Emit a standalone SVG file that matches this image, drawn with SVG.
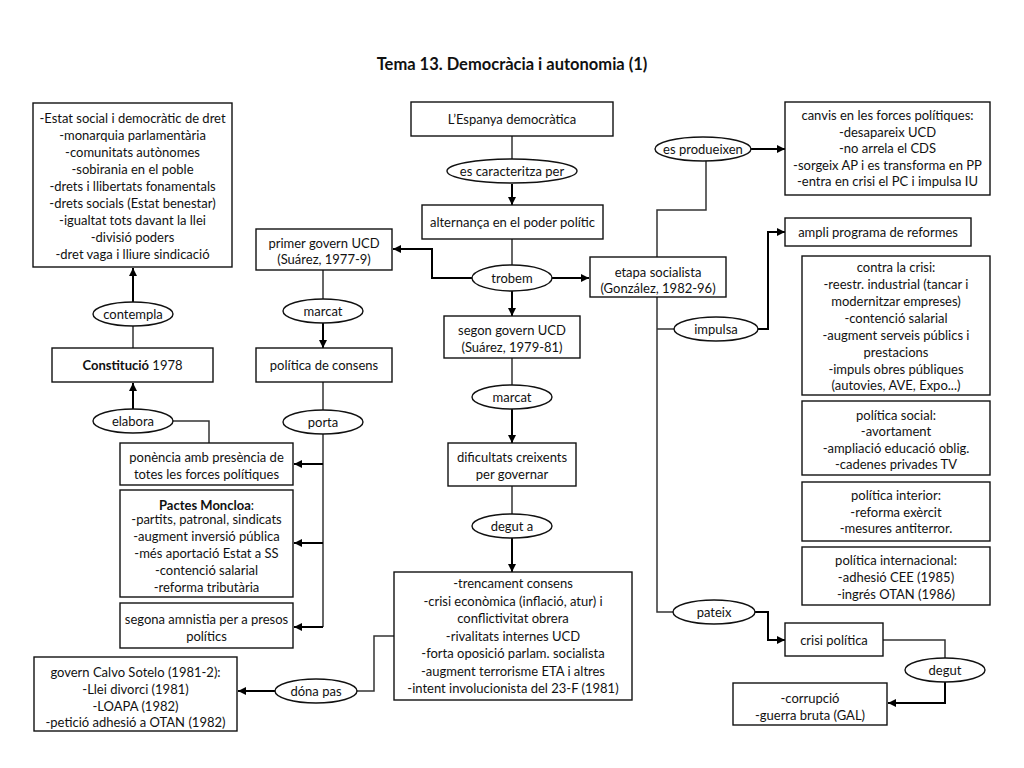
<svg xmlns="http://www.w3.org/2000/svg" width="1024" height="768" viewBox="0 0 1024 768">
<style>
text{font-family:Lato,"Liberation Sans",sans-serif;font-size:13px;fill:#111;text-anchor:middle}
.title{font-size:16.5px;font-weight:bold}
.b{font-weight:bold}
.box{fill:#fff;stroke:#111;stroke-width:1.4}
.ell{fill:#fff;stroke:#111;stroke-width:1.4}
.ln{fill:none;stroke:#333;stroke-width:1.5}
.ar{fill:none;stroke:#000;stroke-width:2;marker-end:url(#ah)}
</style>
<defs>
<marker id="ah" viewBox="0 0 10 10" refX="10" refY="5" markerWidth="9" markerHeight="8" markerUnits="userSpaceOnUse" orient="auto">
<path d="M0,0 L10,5 L0,10 z" fill="#000"/>
</marker>
</defs>
<rect width="1024" height="768" fill="#fff"/>
<text class="title" x="512" y="70">Tema 13. Democràcia i autonomia (1)</text>

<g id="connectors">
<path class="ar" d="M133,302 L133,268"/>
<path class="ln" d="M133,326 L133,348"/>
<path class="ar" d="M133,409 L133,383"/>
<path class="ln" d="M173,421 L209,421 L209,443"/>
<path class="ln" d="M323,270 L323,299"/>
<path class="ar" d="M323,323 L323,348"/>
<path class="ln" d="M323,382 L323,410"/>
<path class="ln" d="M323,434 L323,627"/>
<path class="ar" d="M323,464 L294,464"/>
<path class="ar" d="M323,543 L294,543"/>
<path class="ar" d="M323,627 L294,627"/>
<path class="ln" d="M512,136 L512,159"/>
<path class="ar" d="M512,184 L512,205"/>
<path class="ln" d="M512,239 L512,265"/>
<path class="ar" d="M472,278 L432,278 L432,249 L393,249"/>
<path class="ar" d="M552,278 L589,278"/>
<path class="ar" d="M512,291 L512,316"/>
<path class="ln" d="M512,358 L512,385"/>
<path class="ar" d="M512,409 L512,443"/>
<path class="ln" d="M512,486 L512,514"/>
<path class="ar" d="M512,538 L512,572"/>
<path class="ln" d="M394,636 L374,636 L374,691 L357,691"/>
<path class="ar" d="M275,691 L238,691"/>
<path class="ln" d="M657,257 L657,210 L706,210 L706,161"/>
<path class="ar" d="M750,149 L785,149"/>
<path class="ln" d="M657,297 L657,612 L673,612"/>
<path class="ln" d="M657,329 L674,329"/>
<path class="ar" d="M758,329 L768,329 L768,232 L785,232"/>
<path class="ar" d="M755,612 L768,612 L768,640 L785,640"/>
<path class="ln" d="M883,640 L945,640 L945,658"/>
<path class="ar" d="M945,682 L945,703 L888,703"/>
</g>

<g id="n-const-content">
<rect class="box" x="33" y="103" width="199" height="164"/>
<text x="132.5" y="123">-Estat social i democràtic de dret</text>
<text x="132.5" y="140">-monarquia parlamentària</text>
<text x="132.5" y="157">-comunitats autònomes</text>
<text x="132.5" y="174">-sobirania en el poble</text>
<text x="132.5" y="191">-drets i llibertats fonamentals</text>
<text x="132.5" y="208">-drets socials (Estat benestar)</text>
<text x="132.5" y="225">-igualtat tots davant la llei</text>
<text x="132.5" y="242">-divisió poders</text>
<text x="132.5" y="259">-dret vaga i lliure sindicació</text>
</g>
<g id="n-contempla"><ellipse class="ell" cx="133" cy="314" rx="40" ry="12"/><text x="133" y="318.5">contempla</text></g>
<g id="n-constitucio"><rect class="box" x="52" y="348" width="161" height="34"/><text x="132.5" y="369.5"><tspan class="b">Constitució</tspan> 1978</text></g>
<g id="n-elabora"><ellipse class="ell" cx="133" cy="421" rx="40" ry="12"/><text x="133" y="425.5">elabora</text></g>
<g id="n-ponencia"><rect class="box" x="120" y="443" width="173" height="42"/><text x="206.5" y="462">ponència amb presència de</text><text x="206.5" y="479">totes les forces polítiques</text></g>
<g id="n-pactes"><rect class="box" x="120" y="490" width="173" height="107"/>
<text x="206.5" y="510"><tspan class="b">Pactes Moncloa</tspan>:</text>
<text x="206.5" y="524">-partits, patronal, sindicats</text>
<text x="206.5" y="541">-augment inversió pública</text>
<text x="206.5" y="558">-més aportació Estat a SS</text>
<text x="206.5" y="575">-contenció salarial</text>
<text x="206.5" y="592">-reforma tributària</text>
</g>
<g id="n-amnistia"><rect class="box" x="120" y="603" width="173" height="45"/><text x="206.5" y="624">segona amnistia per a presos</text><text x="206.5" y="641">polítics</text></g>
<g id="n-primer"><rect class="box" x="256" y="229" width="136" height="41"/><text x="324" y="247.5">primer govern UCD</text><text x="324" y="264">(Suárez, 1977-9)</text></g>
<g id="n-marcat1"><ellipse class="ell" cx="323" cy="311" rx="40" ry="12"/><text x="323" y="315.5">marcat</text></g>
<g id="n-consens"><rect class="box" x="256" y="348" width="136" height="34"/><text x="324" y="369.5">política de consens</text></g>
<g id="n-porta"><ellipse class="ell" cx="323" cy="422" rx="40" ry="12"/><text x="323" y="426.5">porta</text></g>
<g id="n-espanya"><rect class="box" x="411" y="102" width="202" height="34"/><text x="512" y="123.5">L’Espanya democràtica</text></g>
<g id="n-caract"><ellipse class="ell" cx="512" cy="171" rx="65" ry="12"/><text x="512" y="175.5">es caracteritza per</text></g>
<g id="n-alternanca"><rect class="box" x="422" y="205" width="181" height="34"/><text x="512.5" y="226.5">alternança en el poder polític</text></g>
<g id="n-trobem"><ellipse class="ell" cx="512" cy="278" rx="40" ry="13"/><text x="512" y="282.5">trobem</text></g>
<g id="n-segon"><rect class="box" x="444" y="316" width="136" height="42"/><text x="512" y="334.5">segon govern UCD</text><text x="512" y="351.5">(Suárez, 1979-81)</text></g>
<g id="n-marcat2"><ellipse class="ell" cx="512" cy="397" rx="40" ry="12"/><text x="512" y="401.5">marcat</text></g>
<g id="n-dificultats"><rect class="box" x="448" y="443" width="128" height="43"/><text x="512" y="461.5">dificultats creixents</text><text x="512" y="478.5">per governar</text></g>
<g id="n-deguta"><ellipse class="ell" cx="512" cy="526" rx="40" ry="12"/><text x="512" y="530.5">degut a</text></g>
<g id="n-trencament"><rect class="box" x="394" y="572" width="238" height="128"/>
<text x="513" y="588">-trencament consens</text>
<text x="513" y="605.5">-crisi econòmica (inflació, atur) i</text>
<text x="513" y="623">conflictivitat obrera</text>
<text x="513" y="640.5">-rivalitats internes UCD</text>
<text x="513" y="658">-forta oposició parlam. socialista</text>
<text x="513" y="675.5">-augment terrorisme ETA i altres</text>
<text x="513" y="693">-intent involucionista del 23-F (1981)</text>
</g>
<g id="n-donapas"><ellipse class="ell" cx="316" cy="691" rx="41" ry="12"/><text x="316" y="695.5">dóna pas</text></g>
<g id="n-calvo"><rect class="box" x="34" y="657" width="203" height="74"/>
<text x="135.5" y="676.5">govern Calvo Sotelo (1981-2):</text>
<text x="135.5" y="693.5">-Llei divorci (1981)</text>
<text x="135.5" y="710.5">-LOAPA (1982)</text>
<text x="135.5" y="727">-petició adhesió a OTAN (1982)</text>
</g>
<g id="n-etapa"><rect class="box" x="590" y="257" width="136" height="40"/><text x="658" y="276.5">etapa socialista</text><text x="658" y="292.5">(González, 1982-96)</text></g>
<g id="n-produeixen"><ellipse class="ell" cx="703" cy="149" rx="48" ry="12"/><text x="703" y="153.5">es produeixen</text></g>
<g id="n-canvis"><rect class="box" x="785" y="102" width="205" height="93"/>
<text x="887.5" y="120">canvis en les forces polítiques:</text>
<text x="887.5" y="136.5">-desapareix UCD</text>
<text x="887.5" y="153">-no arrela el CDS</text>
<text x="887.5" y="169.5">-sorgeix AP i es transforma en PP</text>
<text x="887.5" y="186">-entra en crisi el PC i impulsa IU</text>
</g>
<g id="n-ampli"><rect class="box" x="785" y="218" width="186" height="28"/><text x="878" y="236.5">ampli programa de reformes</text></g>
<g id="n-impulsa"><ellipse class="ell" cx="716" cy="329" rx="42" ry="12"/><text x="716" y="333.5">impulsa</text></g>
<g id="n-crisi"><rect class="box" x="802" y="256" width="188" height="139"/>
<text x="896" y="271.5">contra la crisi:</text>
<text x="896" y="288.5">-reestr. industrial (tancar i</text>
<text x="896" y="305.5">modernitzar empreses)</text>
<text x="896" y="322.5">-contenció salarial</text>
<text x="896" y="339.5">-augment serveis públics i</text>
<text x="896" y="356.5">prestacions</text>
<text x="896" y="373.5">-impuls obres públiques</text>
<text x="896" y="390">(autovies, AVE, Expo...)</text>
</g>
<g id="n-social"><rect class="box" x="802" y="401" width="188" height="74"/>
<text x="896" y="419.5">política social:</text>
<text x="896" y="436">-avortament</text>
<text x="896" y="452.5">-ampliació educació oblig.</text>
<text x="896" y="469">-cadenes privades TV</text>
</g>
<g id="n-interior"><rect class="box" x="802" y="482" width="188" height="59"/>
<text x="896" y="499.5">política interior:</text>
<text x="896" y="516.5">-reforma exèrcit</text>
<text x="896" y="533">-mesures antiterror.</text>
</g>
<g id="n-internacional"><rect class="box" x="802" y="547" width="188" height="58"/>
<text x="896" y="564.5">política internacional:</text>
<text x="896" y="582">-adhesió CEE (1985)</text>
<text x="896" y="598.5">-ingrés OTAN (1986)</text>
</g>
<g id="n-pateix"><ellipse class="ell" cx="714" cy="612" rx="41" ry="12"/><text x="714" y="616.5">pateix</text></g>
<g id="n-crisipol"><rect class="box" x="785" y="623" width="98" height="33"/><text x="834" y="644.5">crisi política</text></g>
<g id="n-degut"><ellipse class="ell" cx="945" cy="670" rx="40" ry="12"/><text x="945" y="674.5">degut</text></g>
<g id="n-corrupcio"><rect class="box" x="733" y="683" width="154" height="42"/><text x="810" y="702.5">-corrupció</text><text x="810" y="719.5">-guerra bruta (GAL)</text></g>
</svg>
